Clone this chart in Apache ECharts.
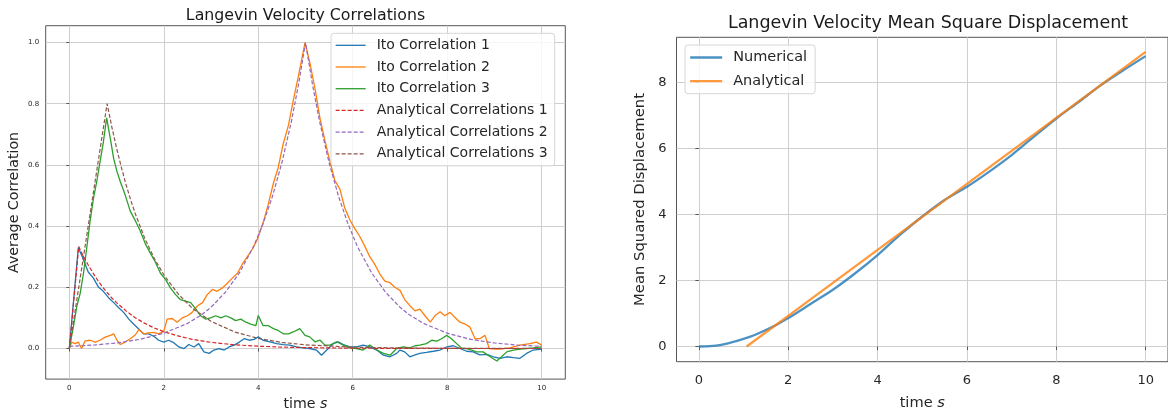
<!DOCTYPE html>
<html>
<head>
<meta charset="utf-8">
<script src="https://cdn.jsdelivr.net/npm/echarts@6/dist/echarts.min.js"></script>
<style>
html,body{margin:0;padding:0;background:#fff;}
#c{width:1168px;height:416px;}
</style>
</head>
<body>
<div id="c"></div>
<script>
// ---------- DATA ----------
const corrXTicks = [0, 2, 4, 6, 8, 10];
const corrYTicks = [0, 0.2, 0.4, 0.6, 0.8, 1.0];
const msdXTicks = [0, 2, 4, 6, 8, 10];
const msdYTicks = [0, 2, 4, 6, 8];

const ito1 = [[0,0],[0.19,0.33],[0.3,0.29],[0.4,0.25],[0.51,0.23],[0.62,0.2],[0.72,0.187],[0.83,0.166],[0.94,0.15],[1.04,0.134],[1.15,0.118],[1.26,0.096],[1.36,0.08],[1.47,0.064],[1.57,0.048],[1.68,0.048],[1.79,0.04],[1.89,0.027],[2.0,0.021],[2.1,0.027],[2.21,0.019],[2.32,0.005],[2.43,0],[2.53,0.013],[2.64,0.005],[2.74,0.016],[2.85,-0.011],[2.96,-0.016],[3.06,-0.005],[3.17,0],[3.28,-0.005],[3.38,0.005],[3.49,0.011],[3.6,0.021],[3.7,0.032],[3.81,0.027],[3.91,0.03],[4.0,0.038],[4.1,0.027],[4.25,0.022],[4.39,0.016],[4.53,0.013],[4.67,0.011],[4.81,0.005],[4.95,0.002],[5.09,0],[5.23,-0.005],[5.34,-0.022],[5.45,-0.005],[5.59,0.016],[5.69,0.022],[5.8,0.013],[5.94,0.005],[6.08,0.005],[6.22,0.011],[6.36,0.005],[6.51,-0.005],[6.65,-0.022],[6.79,-0.027],[6.93,-0.016],[7.0,-0.005],[7.1,-0.011],[7.21,-0.027],[7.32,-0.021],[7.42,-0.016],[7.56,-0.013],[7.71,-0.009],[7.85,-0.005],[7.99,0.005],[8.13,0.009],[8.27,0],[8.41,-0.009],[8.55,-0.011],[8.69,-0.021],[8.84,-0.019],[8.98,-0.027],[9.12,-0.032],[9.26,-0.027],[9.4,-0.03],[9.54,-0.032],[9.68,-0.016],[9.82,-0.005],[10.0,-0.002]];

const ito2 = [[0,0],[0.05,0.021],[0.12,0.016],[0.19,0.021],[0.26,0],[0.33,0.024],[0.44,0.027],[0.55,0.021],[0.65,0.027],[0.76,0.037],[0.87,0.043],[0.94,0.048],[1.01,0.027],[1.08,0.013],[1.18,0.021],[1.29,0.032],[1.4,0.045],[1.47,0.062],[1.57,0.048],[1.68,0.051],[1.79,0.053],[1.89,0.048],[2.0,0.056],[2.07,0.096],[2.18,0.098],[2.28,0.086],[2.39,0.1],[2.5,0.107],[2.6,0.118],[2.71,0.139],[2.82,0.15],[2.92,0.176],[3.03,0.193],[3.13,0.187],[3.24,0.198],[3.35,0.214],[3.45,0.23],[3.56,0.246],[3.67,0.278],[3.77,0.3],[3.88,0.326],[3.99,0.36],[4.1,0.41],[4.21,0.47],[4.32,0.54],[4.42,0.59],[4.53,0.67],[4.64,0.73],[4.74,0.81],[4.85,0.89],[4.99,1.0],[5.09,0.935],[5.2,0.85],[5.31,0.75],[5.41,0.68],[5.52,0.61],[5.62,0.55],[5.73,0.52],[5.83,0.46],[5.94,0.42],[6.05,0.39],[6.15,0.366],[6.26,0.333],[6.36,0.3],[6.47,0.274],[6.58,0.242],[6.68,0.22],[6.79,0.215],[6.89,0.2],[7.0,0.19],[7.1,0.16],[7.21,0.14],[7.32,0.123],[7.42,0.129],[7.53,0.107],[7.64,0.086],[7.74,0.107],[7.85,0.12],[7.95,0.107],[8.06,0.118],[8.16,0.102],[8.27,0.086],[8.38,0.08],[8.48,0.07],[8.59,0.032],[8.69,0.032],[8.8,0.043],[8.89,0],[9.01,-0.002],[9.12,-0.002],[9.33,0.002],[9.54,0.011],[9.75,0.016],[9.89,0.021],[10.0,0.011]];

const ito3 = [[0,0],[0.09,0.075],[0.16,0.139],[0.23,0.18],[0.3,0.246],[0.37,0.33],[0.44,0.417],[0.51,0.49],[0.58,0.545],[0.65,0.61],[0.72,0.674],[0.79,0.754],[0.87,0.684],[0.94,0.62],[1.01,0.578],[1.08,0.545],[1.18,0.503],[1.29,0.449],[1.4,0.417],[1.5,0.385],[1.61,0.342],[1.72,0.31],[1.82,0.283],[1.93,0.246],[2.04,0.225],[2.14,0.198],[2.25,0.176],[2.35,0.16],[2.46,0.155],[2.57,0.15],[2.67,0.13],[2.78,0.107],[2.89,0.096],[2.99,0.1],[3.1,0.107],[3.21,0.1],[3.31,0.107],[3.42,0.1],[3.52,0.091],[3.63,0.096],[3.74,0.086],[3.84,0.08],[3.95,0.075],[4.0,0.108],[4.1,0.075],[4.21,0.075],[4.32,0.065],[4.42,0.059],[4.53,0.048],[4.64,0.048],[4.74,0.054],[4.88,0.065],[4.99,0.043],[5.09,0.038],[5.2,0.022],[5.31,0.027],[5.41,0.011],[5.52,0.011],[5.66,0.022],[5.8,0.011],[5.94,0.002],[6.08,0],[6.22,-0.005],[6.36,0.011],[6.51,-0.005],[6.65,-0.016],[6.79,-0.022],[6.93,0],[7.07,0.005],[7.21,0.002],[7.32,0.009],[7.42,0.011],[7.56,0.016],[7.67,0.027],[7.78,0.024],[7.88,0.032],[7.99,0.043],[8.09,0.032],[8.2,0.016],[8.31,0],[8.41,0],[8.52,-0.005],[8.62,-0.011],[8.76,-0.011],[8.91,-0.027],[9.05,-0.041],[9.15,-0.027],[9.26,-0.011],[9.4,-0.005],[9.54,-0.002],[9.68,0],[9.82,0.002],[10.0,0.005]];

const analytic1 = [[0,0],[0.2,0.333],[0.3,0.3],[0.4,0.273],[0.5,0.247],[0.6,0.223],[0.7,0.202],[0.8,0.183],[0.9,0.165],[1.0,0.15],[1.2,0.123],[1.4,0.1],[1.6,0.082],[1.8,0.067],[2.0,0.055],[2.3,0.041],[2.6,0.03],[3.0,0.02],[3.5,0.012],[4.0,0.0075],[4.5,0.0045],[5.0,0.003],[6.0,0.001],[7.0,0.0004],[8.0,0.0001],[10.0,0]];

const analytic2 = [[0,0.007],[0.5,0.011],[1.0,0.018],[1.5,0.03],[2.0,0.05],[2.5,0.082],[2.8,0.11],[3.0,0.135],[3.3,0.183],[3.6,0.247],[3.9,0.333],[4.1,0.407],[4.3,0.497],[4.5,0.607],[4.7,0.741],[4.85,0.861],[5.0,1.0],[5.15,0.861],[5.3,0.741],[5.5,0.607],[5.7,0.497],[5.9,0.407],[6.1,0.333],[6.4,0.247],[6.7,0.183],[7.0,0.135],[7.2,0.11],[7.5,0.082],[8.0,0.05],[8.5,0.03],[9.0,0.018],[9.5,0.011],[10.0,0.007]];

const analytic3 = [[0,0],[0.8,0.8],[0.9,0.724],[1.0,0.655],[1.1,0.593],[1.2,0.536],[1.3,0.485],[1.4,0.439],[1.6,0.359],[1.8,0.294],[2.0,0.241],[2.3,0.179],[2.6,0.132],[3.0,0.089],[3.5,0.054],[4.0,0.033],[4.5,0.02],[5.0,0.012],[6.0,0.0044],[7.0,0.0016],[8.0,0.0006],[10.0,0]];

const msdNumerical = [[0,0],[0.25,0.01],[0.5,0.05],[0.75,0.13],[1.0,0.23],[1.25,0.35],[1.5,0.5],[1.75,0.67],[2.0,0.86],[2.5,1.29],[3.0,1.72],[3.5,2.22],[4.0,2.77],[4.5,3.38],[5.0,3.94],[5.5,4.44],[6.0,4.84],[6.5,5.3],[7.0,5.8],[7.5,6.36],[8.0,6.91],[8.5,7.41],[9.0,7.92],[9.5,8.37],[10.0,8.8]];

const msdAnalytical = [[1.07,0],[2.0,0.93],[4.0,2.93],[6.0,4.93],[8.0,6.93],[10.0,8.93]];

// ---------- CHART ----------
const FONT = 'DejaVu Sans';
const TXT = '#262626';
const GRIDC = '#cfcfcf';
const FRAME = '#555555';
const C = ['#1f77b4','#ff7f0e','#2ca02c','#d62728','#9467bd','#8c564b'];

const chart = echarts.init(document.getElementById('c'), null, {renderer:'canvas'});

function lineSeries(name, data, color, xi, dashed, width, opacity) {
  return {
    name, type: 'line', data, xAxisIndex: xi, yAxisIndex: xi,
    symbol: 'none', showSymbol: false, smooth: false,
    lineStyle: { color, width, type: dashed ? [4, 2] : 'solid', opacity: opacity == null ? 1 : opacity },
    itemStyle: { color, opacity: opacity == null ? 1 : opacity },
    emphasis: { disabled: true },
    z: 3
  };
}

const hiddenMarker = { color: 'rgba(0,0,0,0)', borderColor: 'rgba(0,0,0,0)', borderWidth: 0, opacity: 0 };

const option = {
  animation: false,
  backgroundColor: '#ffffff',
  graphic: [
    { type: 'text', x: 305.5, y: 16, style: { text: 'Langevin Velocity Correlations', align: 'center', verticalAlign: 'middle', font: '15.8px "DejaVu Sans"', fill: '#1a1a1a' } },
    { type: 'text', x: 928, y: 23, style: { text: 'Langevin Velocity Mean Square Displacement', align: 'center', verticalAlign: 'middle', font: '17.5px "DejaVu Sans"', fill: '#1a1a1a' } }
  ],
  grid: [
    { left: 45.7, top: 25.7, width: 519.6, height: 358.6, show: true, borderColor: FRAME, borderWidth: 1, backgroundColor: 'transparent', containLabel: false },
    { left: 676.5, top: 37.3, width: 502.7, height: 324.4, show: true, borderColor: FRAME, borderWidth: 1, backgroundColor: 'transparent', containLabel: false }
  ],
  legend: [
    {
      data: ['Ito Correlation 1','Ito Correlation 2','Ito Correlation 3','Analytical Correlations 1','Analytical Correlations 2','Analytical Correlations 3'],
      orient: 'vertical', left: 331, top: 33.3,
      itemWidth: 30, itemHeight: 14, itemGap: 7.7,
      padding: [5, 7, 5, 4],
      itemStyle: hiddenMarker,
      lineStyle: { width: 1.3 },
      backgroundColor: 'rgba(255,255,255,0.8)', borderColor: '#d6d6d6', borderWidth: 1, borderRadius: 3,
      textStyle: { fontFamily: FONT, fontSize: 14, color: TXT, padding: [0, 0, 0, 6] },
      selectedMode: false
    },
    {
      data: ['Numerical','Analytical'],
      orient: 'vertical', left: 685, top: 45,
      itemWidth: 32, itemHeight: 14, itemGap: 8.7,
      padding: [5, 8, 5, 4],
      itemStyle: hiddenMarker,
      lineStyle: { width: 2.3 },
      backgroundColor: 'rgba(255,255,255,0.8)', borderColor: '#d6d6d6', borderWidth: 1, borderRadius: 3,
      textStyle: { fontFamily: FONT, fontSize: 14.5, color: TXT, padding: [0, 0, 0, 6] },
      selectedMode: false
    }
  ],
  xAxis: [
    {
      type: 'value', gridIndex: 0, min: -0.5, max: 10.5,
      axisLine: { show: false },
      axisTick: { show: true, length: 3, customValues: corrXTicks, lineStyle: { color: FRAME } },
      axisLabel: { customValues: corrXTicks, fontFamily: FONT, fontSize: 7, color: TXT, margin: 6 },
      splitLine: { show: true, lineStyle: { color: GRIDC, width: 1 } },
      name: 'time {i|s}', nameLocation: 'middle', nameGap: 16,
      nameTextStyle: { fontFamily: FONT, fontSize: 14.2, color: TXT, verticalAlign: 'top',
        rich: { i: { fontStyle: 'italic', fontFamily: FONT, fontSize: 14.2, color: TXT } } }
    },
    {
      type: 'value', gridIndex: 1, min: -0.5, max: 10.5,
      axisLine: { show: false },
      axisTick: { show: true, length: 3.5, customValues: msdXTicks, lineStyle: { color: FRAME } },
      axisLabel: { customValues: msdXTicks, fontFamily: FONT, fontSize: 13, color: TXT, margin: 12 },
      splitLine: { show: true, lineStyle: { color: GRIDC, width: 1 } },
      name: 'time {i|s}', nameLocation: 'middle', nameGap: 34,
      nameTextStyle: { fontFamily: FONT, fontSize: 14.6, color: TXT, verticalAlign: 'top',
        rich: { i: { fontStyle: 'italic', fontFamily: FONT, fontSize: 14.6, color: TXT } } }
    }
  ],
  yAxis: [
    {
      type: 'value', gridIndex: 0, min: -0.1, max: 1.055,
      axisLine: { show: false },
      axisTick: { show: true, length: 3, customValues: corrYTicks, lineStyle: { color: FRAME } },
      axisLabel: { customValues: corrYTicks, fontFamily: FONT, fontSize: 7, color: TXT, margin: 6.5,
        formatter: v => Number(v).toFixed(1) },
      splitLine: { show: true, lineStyle: { color: GRIDC, width: 1 } },
      name: 'Average Correlation', nameLocation: 'middle', nameGap: 24,
      nameTextStyle: { fontFamily: FONT, fontSize: 14.2, color: TXT }
    },
    {
      type: 'value', gridIndex: 1, min: -0.46, max: 9.37,
      axisLine: { show: false },
      axisTick: { show: true, length: 3.5, customValues: msdYTicks, lineStyle: { color: FRAME } },
      axisLabel: { customValues: msdYTicks, fontFamily: FONT, fontSize: 13, color: TXT, margin: 10 },
      splitLine: { show: true, lineStyle: { color: GRIDC, width: 1 } },
      name: 'Mean Squared Displacement', nameLocation: 'middle', nameGap: 29,
      nameTextStyle: { fontFamily: FONT, fontSize: 14.8, color: TXT }
    }
  ],
  series: [
    lineSeries('Ito Correlation 1', ito1, C[0], 0, false, 1.3),
    lineSeries('Ito Correlation 2', ito2, C[1], 0, false, 1.3),
    lineSeries('Ito Correlation 3', ito3, C[2], 0, false, 1.3),
    lineSeries('Analytical Correlations 1', analytic1, C[3], 0, true, 1.2),
    lineSeries('Analytical Correlations 2', analytic2, C[4], 0, true, 1.2),
    lineSeries('Analytical Correlations 3', analytic3, C[5], 0, true, 1.2),
    Object.assign(lineSeries('Numerical', msdNumerical, C[0], 1, false, 2.3, 0.8), { smooth: 0.3 }),
    lineSeries('Analytical', msdAnalytical, C[1], 1, false, 2.3, 0.8)
  ]
};
chart.setOption(option);
</script>
</body>
</html>
